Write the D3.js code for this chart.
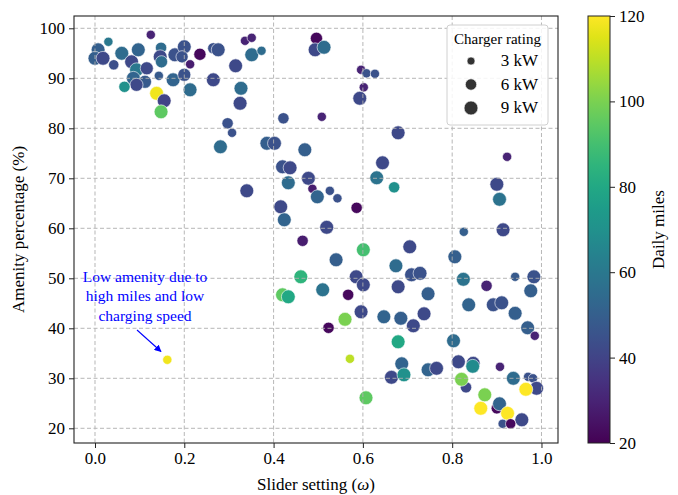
<!DOCTYPE html>
<html><head><meta charset="utf-8">
<script src="https://cdn.jsdelivr.net/npm/d3@7"></script>
<style>
body{margin:0;background:#fff;}
svg text{font-family:"Liberation Serif","Times New Roman",serif;fill:#000;}
</style></head>
<body><svg id="c" width="678" height="495"></svg>
<script>
// ---- data ----
const omega = [0.007,0.000,0.018,0.030,0.042,0.060,0.082,0.097,0.093,0.086,0.116,0.112,0.093,0.066,0.125,0.148,0.146,0.149,0.143,0.179,0.175,0.200,0.195,0.200,0.213,0.213,0.235,0.138,0.155,0.148,0.265,0.276,0.265,0.315,0.327,0.325,0.297,0.307,0.336,0.351,0.351,0.373,0.281,0.385,0.402,0.470,0.422,0.496,0.493,0.513,0.596,0.608,0.627,0.602,0.593,0.508,0.679,0.923,
0.420,0.437,0.644,0.478,0.433,0.631,0.670,0.340,0.487,0.526,0.498,0.543,0.586,0.416,0.424,0.519,0.900,0.906,0.826,0.914,0.465,0.601,0.705,0.540,0.806,0.674,0.709,0.728,0.825,0.877,0.941,0.983,0.976,0.461,0.510,0.585,0.601,0.679,0.746,0.567,0.420,0.433,0.837,0.892,0.911,0.941,0.969,0.985,0.596,0.560,0.523,0.647,0.685,0.713,0.737,0.679,0.803,0.571,0.687,0.664,0.692,0.746,0.765,0.814,0.847,0.846,0.907,0.937,0.970,0.981,0.989,0.965,0.831,0.821,0.873,0.864,0.900,0.906,0.924,0.956,0.913,0.931,0.607,0.162];
const amenity = [95.7,94.0,94.0,97.3,92.7,95.0,93.3,95.7,91.7,90.0,92.0,89.3,88.7,88.3,98.7,96.1,94.3,93.3,90.5,94.7,89.7,96.3,94.3,90.7,92.8,87.7,94.8,87.0,85.5,83.3,96.0,95.7,89.7,92.5,88.0,85.0,81.0,79.1,97.5,98.1,94.7,95.5,76.3,77.0,77.0,75.7,82.0,98.0,95.7,96.2,91.7,91.0,90.9,88.2,86.0,82.3,79.1,74.3,
72.3,72.1,73.1,70.0,69.1,70.1,68.2,67.5,67.9,67.5,66.3,66.0,64.1,64.3,61.7,60.2,68.8,65.8,59.3,59.7,57.5,55.7,56.3,53.7,54.3,52.5,50.7,51.0,49.8,48.5,50.3,50.3,47.5,50.3,47.7,50.3,48.7,48.3,46.9,46.7,46.7,46.3,44.7,44.7,45.1,43.0,40.1,38.5,43.3,41.8,40.1,42.3,42.0,40.5,42.9,37.3,37.5,33.9,32.9,30.2,30.7,31.7,32.0,33.3,33.0,32.4,32.3,30.0,30.3,30.0,28.0,27.8,28.2,29.8,26.7,24.0,24.0,24.9,23.0,21.7,20.9,20.9,26.1,33.7];
const dailyMiles = [50,50,42,60,44,55,42,52,60,52,42,48,42,70,30,55,42,55,48,45,52,45,45,45,28,55,22,118,40,95,45,45,42,42,55,42,45,45,30,30,55,55,55,50,45,50,45,22,42,55,30,45,45,30,42,30,42,30,
45,42,42,42,55,58,70,42,28,45,52,45,22,42,52,42,42,58,50,42,28,90,42,50,50,55,45,45,58,30,48,45,50,85,58,42,42,42,50,22,95,80,52,45,45,50,50,30,42,100,22,52,50,42,42,80,55,110,52,42,70,52,42,42,42,68,30,55,45,45,42,120,42,100,100,120,22,52,120,42,45,22,95,118];
const chargerKW = [9,9,9,4,5,9,9,9,9,9,8,8,8,6,4,6,9,7,4,9,9,9,7,8,4,9,7,9,9,9,6,9,9,9,9,9,6,4,4,4,9,4,9,9,9,9,6,7,9,9,4,4,4,4,9,4,9,4,
9,9,9,9,9,9,6,9,4,4,9,4,6,9,9,9,9,9,4,9,6,9,9,9,9,9,9,9,9,6,4,9,9,9,9,9,9,9,9,6,9,9,9,9,9,9,9,4,9,9,6,9,9,9,9,9,9,4,9,9,9,9,9,9,9,9,4,9,4,4,9,9,6,9,9,9,6,9,9,9,4,5,9,4];
const xTicks = [0.0,0.2,0.4,0.6,0.8,1.0];
const yTicks = [20,30,40,50,60,70,80,90,100];
const cbTicks = [20,40,60,80,100,120];
const legendKW = [3,6,9];
const legendLabels = ["3 kW","6 kW","9 kW"];
const noteLines = ["Low amenity due to","high miles and low","charging speed"];

// ---- layout ----
const svg = d3.select("#c");
const L=74,R=558,T=16,B=443;
const x = d3.scaleLinear().domain([-0.047,1.037]).range([L,R]);
const y = d3.scaleLinear().domain([17.06,102.46]).range([B,T]);
const color = d3.scaleSequential(d3.interpolateViridis).domain([20,120]);
const rad = kw => 4*Math.sqrt(kw/3);

const pts = omega.map((w,i)=>({w, a:amenity[i], m:dailyMiles[i], k:chargerKW[i]}));

// points
svg.append("g").selectAll("circle").data(pts).join("circle")
  .attr("cx",d=>x(d.w)).attr("cy",d=>y(d.a)).attr("r",d=>rad(d.k))
  .attr("fill",d=>color(d.m)).attr("stroke","#fff").attr("stroke-width",0.6);

// grid (drawn above points)
const grid = svg.append("g").attr("stroke","#b0b0b0").attr("stroke-width",1).attr("stroke-dasharray","4,2.5").attr("opacity",0.9);
xTicks.forEach(t=>grid.append("line").attr("x1",x(t)).attr("x2",x(t)).attr("y1",T).attr("y2",B));
yTicks.forEach(t=>grid.append("line").attr("y1",y(t)).attr("y2",y(t)).attr("x1",L).attr("x2",R));

// axes
const fmt = d3.format(".1f");
const xAx = svg.append("g").attr("transform",`translate(0,${B})`)
  .call(d3.axisBottom(x).tickValues(xTicks).tickFormat(fmt).tickSize(5).tickPadding(4));
const yAx = svg.append("g").attr("transform",`translate(${L},0)`)
  .call(d3.axisLeft(y).tickValues(yTicks).tickSize(5).tickPadding(4));
[xAx,yAx].forEach(g=>{g.select(".domain").remove();g.selectAll("text").attr("font-size",17).attr("font-family","Liberation Serif");g.selectAll("line").attr("stroke","#222");});
svg.append("rect").attr("x",L).attr("y",T).attr("width",R-L).attr("height",B-T).attr("fill","none").attr("stroke","#222").attr("stroke-width",1.1);

// axis labels
const xl = svg.append("text").attr("x",(L+R)/2).attr("y",490).attr("text-anchor","middle").attr("font-size",17);
xl.append("tspan").text("Slider setting (");
xl.append("tspan").attr("font-style","italic").text("ω");
xl.append("tspan").text(")");
svg.append("text").attr("transform",`translate(24,${(T+B)/2}) rotate(-90)`).attr("text-anchor","middle").attr("font-size",17).text("Amenity percentage (%)");

// legend
const lg = svg.append("g");
lg.append("rect").attr("x",447).attr("y",25).attr("width",101).attr("height",100).attr("rx",3)
  .attr("fill","rgba(255,255,255,0.85)").attr("stroke","#d0d0d0").attr("stroke-width",1);
lg.append("text").attr("x",497.5).attr("y",44).attr("text-anchor","middle").attr("font-size",15).text("Charger rating");
legendKW.forEach((k,i)=>{
  const cy = 61+i*23.5;
  lg.append("circle").attr("cx",471).attr("cy",cy).attr("r",rad(k)).attr("fill","#333").attr("stroke","#fff").attr("stroke-width",0.6);
  lg.append("text").attr("x",538).attr("y",cy+5).attr("text-anchor","end").attr("font-size",17).text(legendLabels[i]);
});

// annotation
const nt = svg.append("text").attr("text-anchor","middle").attr("font-size",15.5).style("fill","#0000ff");
noteLines.forEach((s,i)=>nt.append("tspan").attr("x",145).attr("y",282+i*19.3).text(s));
const defs = svg.append("defs");
defs.append("marker").attr("id","ah").attr("viewBox","0 0 10 10").attr("refX",9).attr("refY",5)
  .attr("markerWidth",7).attr("markerHeight",7).attr("markerUnits","userSpaceOnUse").attr("orient","auto")
  .append("path").attr("d","M0,0L10,5L0,10z").attr("fill","#0000ff");
svg.append("line").attr("x1",137).attr("y1",330).attr("x2",161).attr("y2",351.5)
  .attr("stroke","#0000ff").attr("stroke-width",1.1).attr("marker-end","url(#ah)");

// colorbar
const cbX=588,cbW=22;
const cy = d3.scaleLinear().domain([20,120]).range([B,T]);
const grad = defs.append("linearGradient").attr("id","vg").attr("x1",0).attr("y1",1).attr("x2",0).attr("y2",0);
d3.range(0,1.0001,0.05).forEach(t=>grad.append("stop").attr("offset",t).attr("stop-color",d3.interpolateViridis(t)));
svg.append("rect").attr("x",cbX).attr("y",T).attr("width",cbW).attr("height",B-T).attr("fill","url(#vg)").attr("stroke","#222").attr("stroke-width",1);
const cAx = svg.append("g").attr("transform",`translate(${cbX+cbW},0)`)
  .call(d3.axisRight(cy).tickValues(cbTicks).tickSize(5).tickPadding(4));
cAx.select(".domain").remove();
cAx.selectAll("text").attr("font-size",17).attr("font-family","Liberation Serif");
cAx.selectAll("line").attr("stroke","#222");
svg.append("text").attr("transform",`translate(664,${(T+B)/2}) rotate(-90)`).attr("text-anchor","middle").attr("font-size",17).text("Daily miles");
</script></body></html>
